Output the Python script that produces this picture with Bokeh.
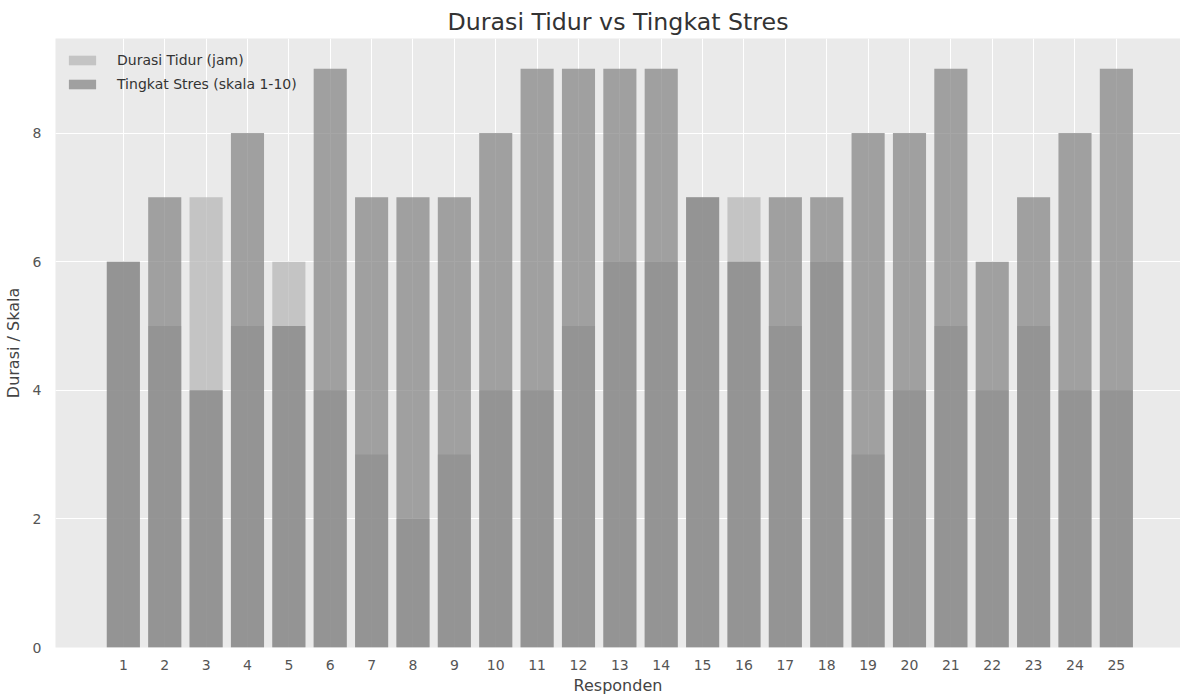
from bokeh.plotting import figure
from bokeh.models import ColumnDataSource, FixedTicker, Range1d, Legend, LegendItem
from bokeh.embed import file_html
from bokeh.resources import INLINE

responden = [1, 2, 3, 4, 5, 6, 7, 8, 9, 10, 11, 12, 13, 14, 15, 16, 17, 18, 19, 20, 21, 22, 23, 24, 25]
durasi_tidur = [6, 5, 7, 5, 6, 4, 3, 2, 3, 4, 4, 5, 6, 6, 7, 7, 5, 6, 3, 4, 5, 4, 5, 4, 4]
tingkat_stres = [6, 7, 4, 8, 5, 9, 7, 7, 7, 8, 9, 9, 9, 9, 7, 6, 7, 7, 8, 8, 9, 6, 7, 8, 9]
y_ticks = [0, 2, 4, 6, 8]

FONT = "DejaVu Sans"

src = ColumnDataSource(dict(x=responden, d=durasi_tidur, s=tingkat_stres))

p = figure(width=1180, height=697, output_backend="svg", toolbar_location=None,
           x_range=Range1d(-0.64, 26.55), y_range=Range1d(0, 9.47),
           min_border_left=55, min_border_right=0, min_border_top=38, min_border_bottom=48)

p.background_fill_color = "#eaeaea"
p.border_fill_color = "white"
p.outline_line_color = None

r1 = p.vbar(x="x", top="d", width=0.8, source=src, fill_color="#b4b4b4", fill_alpha=0.7, line_color=None)
r2 = p.vbar(x="x", top="s", width=0.8, source=src, fill_color="#808080", fill_alpha=0.7, line_color=None)

p.title.text = "Durasi Tidur vs Tingkat Stres"
p.title.text_font = FONT
p.title.text_font_size = "23.7px"
p.title.text_font_style = "normal"
p.title.text_color = "#333333"
p.title.align = "center"
p.title.standoff = 6

p.xaxis.ticker = FixedTicker(ticks=responden)
p.yaxis.ticker = FixedTicker(ticks=y_ticks)
for ax in (p.xaxis[0], p.yaxis[0]):
    ax.axis_line_color = None
    ax.major_tick_line_color = None
    ax.minor_tick_line_color = None
    ax.major_label_text_font = FONT
    ax.major_label_text_font_size = "14px"
    ax.major_label_text_color = "#555555"
    ax.axis_label_text_font = FONT
    ax.axis_label_text_font_size = "16px"
    ax.axis_label_text_font_style = "normal"
    ax.axis_label_text_color = "#444444"
p.xaxis.axis_label = "Responden"
p.yaxis.axis_label = "Durasi / Skala"
p.xaxis.major_label_standoff = 6
p.xaxis.axis_label_standoff = 3
p.yaxis.major_label_standoff = 8
p.yaxis.axis_label_standoff = 7

p.xgrid.grid_line_color = "white"
p.ygrid.grid_line_color = "white"
p.xgrid.grid_line_width = 1
p.ygrid.grid_line_width = 1

legend = Legend(items=[LegendItem(label="Durasi Tidur (jam)", renderers=[r1]),
                       LegendItem(label="Tingkat Stres (skala 1-10)", renderers=[r2])],
                location="top_left")
legend.background_fill_alpha = 0
legend.border_line_color = None
legend.margin = 10
legend.padding = 14
legend.spacing = 0
legend.label_height = 24
legend.glyph_height = 12
legend.glyph_width = 34
legend.label_standoff = 18
legend.label_text_font = FONT
legend.label_text_font_size = "14px"
legend.label_text_color = "#333333"
p.add_layout(legend)

open("out.html", "w").write(file_html(p, INLINE))
